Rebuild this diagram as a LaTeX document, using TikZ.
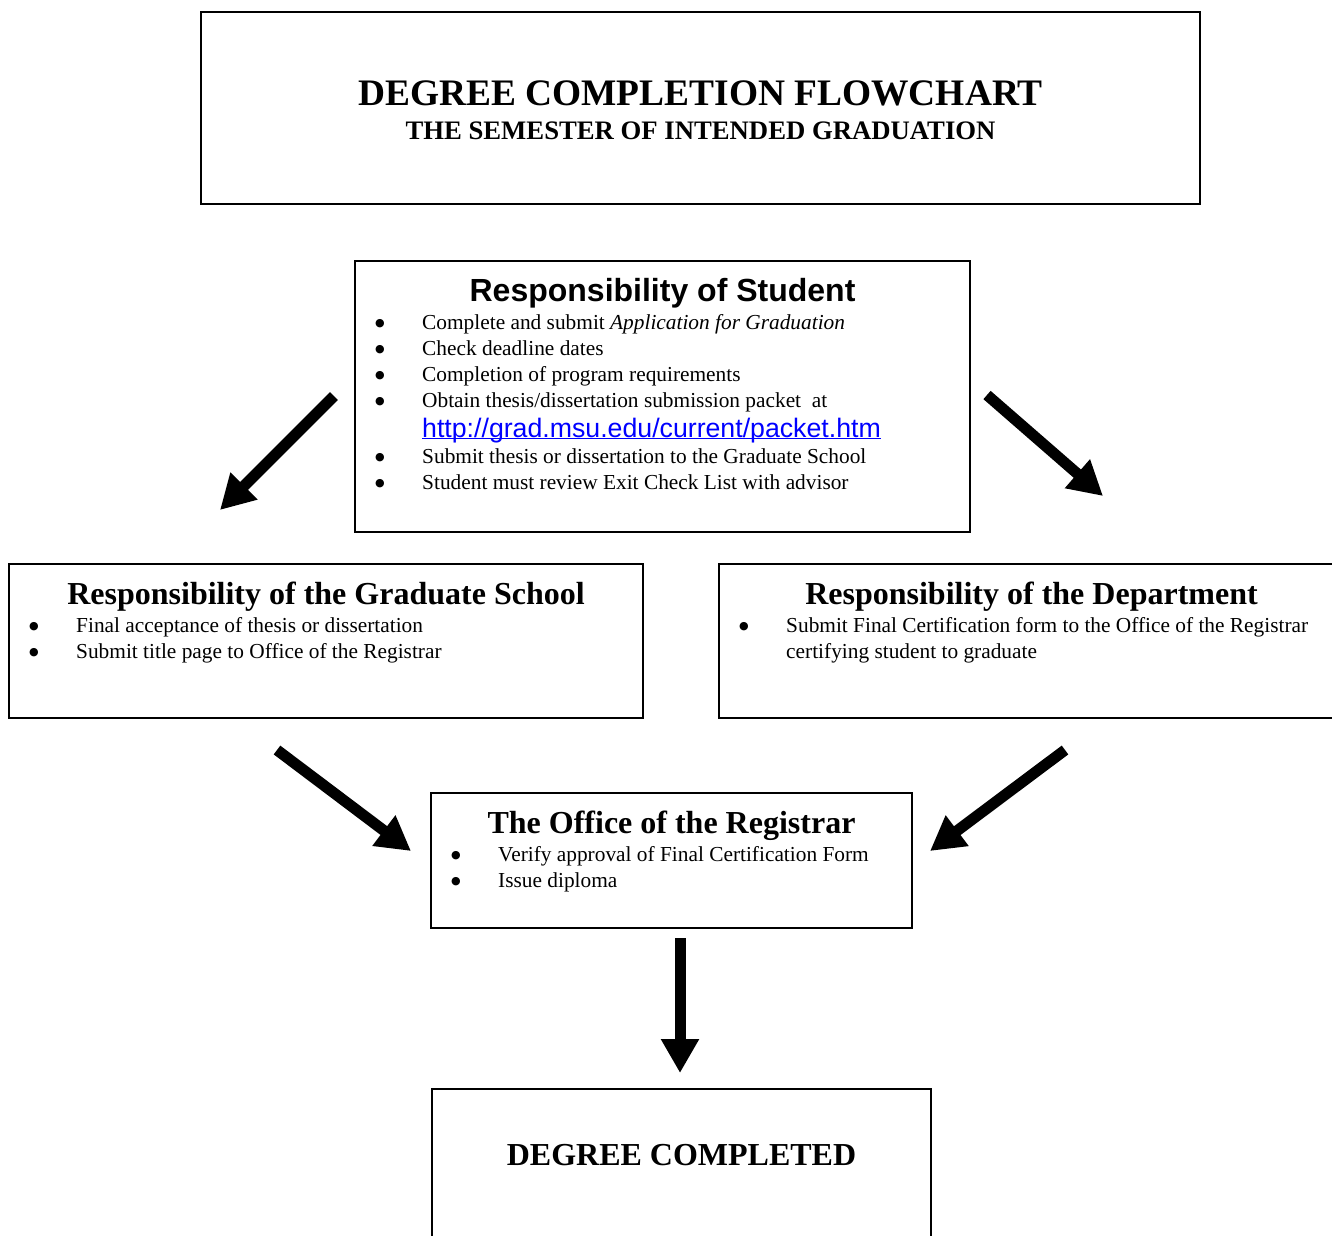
\documentclass[tikz,border=0pt]{standalone}
\usepackage{fontspec}
\setmainfont{Liberation Serif}
\newfontfamily\arialfont{Liberation Sans}
\newfontfamily\dejavufont{DejaVu Sans}
\usetikzlibrary{arrows.meta, positioning}
\definecolor{linkblue}{RGB}{0,0,255}
\newcommand{\bulletmark}{\raisebox{3pt}{\fontsize{11}{11}\selectfont\dejavufont ●}}
\newcommand{\bitem}[1]{\noindent\makebox[49pt][l]{\hspace{2pt}\bulletmark}#1}
\newcommand{\bcont}[1]{\noindent\hspace*{49pt}#1}
\newcommand{\ulink}[1]{\leavevmode\setbox0=\hbox{#1}\rlap{\rule[-2.2pt]{\wd0}{1.3pt}}\box0}

\begin{document}
\begin{tikzpicture}[
    x=1pt, y=-1pt,
    box/.style={rectangle, draw=black, line width=2pt, anchor=north west, inner sep=0pt},
    heading/.style={inner sep=0pt, font=\fontsize{32}{36}\selectfont\bfseries},
    items/.style={inner sep=0pt, text width=620pt, align=flush left, font=\fontsize{21.35}{26}\selectfont},
    bigarrow/.style={line width=11pt, -{Triangle[width=36pt, length=34pt]}}
  ]
  \useasboundingbox (0,0) rectangle (1332,1235);

  \node[box, minimum width=999pt, minimum height=192pt] (banner) at (200,11) {};
  \node[heading, font=\fontsize{37.4}{40}\selectfont\bfseries, below=94.5pt of banner.north, anchor=base] (bannertitle) {DEGREE COMPLETION FLOWCHART};
  \node[heading, font=\fontsize{26.7}{30}\selectfont\bfseries, below=128pt of banner.north, anchor=base] (bannersub) {THE SEMESTER OF INTENDED GRADUATION};

  \node[box, minimum width=615pt, minimum height=271pt] (student) at (354,260) {};
  \node[heading, font=\fontsize{32}{36}\selectfont\arialfont\bfseries, below=41.5pt of student.north, anchor=base] (studenthead) {Responsibility of Student};
  \node[items, below right=69pt and 19pt of student.north west, anchor=base west] (studentlist) {%
    \bitem{Complete and submit \textit{Application for Graduation}}\par
    \bitem{Check deadline dates}\par
    \bitem{Completion of program requirements}\par
    \bitem{Obtain thesis/dissertation submission packet\ \ at}\par\vspace{4pt}
    \bcont{{\fontsize{26.7}{30}\selectfont\arialfont\color{linkblue}\ulink{http://grad.msu.edu/current/packet.htm}}}\par
    \bitem{Submit thesis or dissertation to the Graduate School}\par
    \bitem{Student must review Exit Check List with advisor}};

  \node[box, minimum width=634pt, minimum height=154pt] (gradschool) at (8,563) {};
  \node[heading, below=41.5pt of gradschool.north, anchor=base] (gradhead) {Responsibility of the Graduate School};
  \node[items, below right=69pt and 19pt of gradschool.north west, anchor=base west] (gradlist) {%
    \bitem{Final acceptance of thesis or dissertation}\par
    \bitem{Submit title page to Office of the Registrar}};

  \node[box, minimum width=625pt, minimum height=154pt] (department) at (718,563) {};
  \node[heading, below=41.5pt of department.north, anchor=base] (depthead) {Responsibility of the Department};
  \node[items, below right=69pt and 19pt of department.north west, anchor=base west] (deptlist) {%
    \bitem{Submit Final Certification form to the Office of the Registrar}\par
    \bcont{certifying student to graduate}};

  \node[box, minimum width=481pt, minimum height=135pt] (registrar) at (430,792) {};
  \node[heading, below=41pt of registrar.north, anchor=base] (reghead) {The Office of the Registrar};
  \node[items, below right=69pt and 19pt of registrar.north west, anchor=base west] (reglist) {%
    \bitem{Verify approval of Final Certification Form}\par
    \bitem{Issue diploma}};

  \node[box, minimum width=499pt, minimum height=200pt] (completed) at (431,1088) {};
  \node[heading, below=77.5pt of completed.north, anchor=base] (completedhead) {DEGREE COMPLETED};

  \coordinate (stu2grad-a) at (334,396);
  \coordinate (stu2grad-b) at (220,510);
  \coordinate (stu2dept-a) at (987,395);
  \coordinate (stu2dept-b) at (1103,496);
  \coordinate (grad2reg-a) at (277,750);
  \coordinate (grad2reg-b) at (411,851);
  \coordinate (dept2reg-a) at (1065,750);
  \coordinate (dept2reg-b) at (930,851);
  \coordinate (reg2done-a) at (680,938);
  \coordinate (reg2done-b) at (680,1073);

  \draw[bigarrow] (stu2grad-a) -- (stu2grad-b);
  \draw[bigarrow] (stu2dept-a) -- (stu2dept-b);
  \draw[bigarrow] (grad2reg-a) -- (grad2reg-b);
  \draw[bigarrow] (dept2reg-a) -- (dept2reg-b);
  \draw[bigarrow] (reg2done-a) -- (reg2done-b);
\end{tikzpicture}
\end{document}
